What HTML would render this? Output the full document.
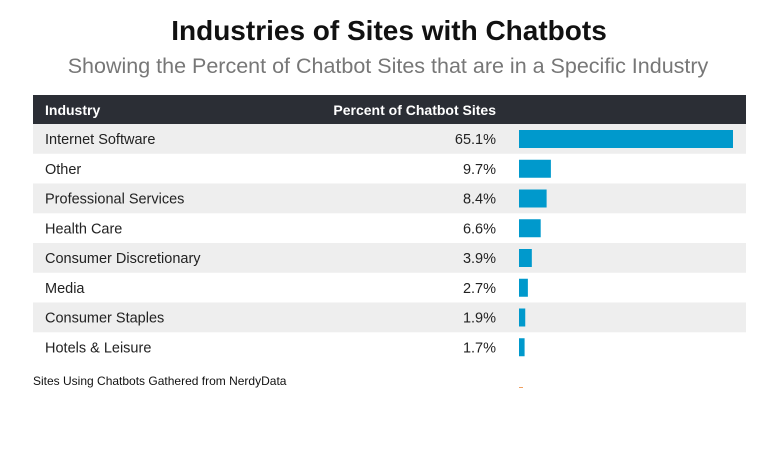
<!DOCTYPE html>
<html><head><meta charset="utf-8"><style>
body{margin:0;background:#fff;width:781px;height:470px;overflow:hidden;font-family:"Liberation Sans",sans-serif}
</style></head><body>
<svg width="781" height="470">
<text x="389" y="40" text-anchor="middle" font-size="28" font-weight="bold" fill="#111">Industries of Sites with Chatbots</text>
<text x="388" y="73" text-anchor="middle" font-size="21.5" fill="#777">Showing the Percent of Chatbot Sites that are in a Specific Industry</text>
<rect x="33" y="95" width="713" height="29" fill="#2b2e35"/>
<text x="45" y="115" font-size="14" font-weight="bold" fill="#fff">Industry</text>
<text x="496" y="115" text-anchor="end" font-size="14" font-weight="bold" fill="#fff">Percent of Chatbot Sites</text>
<g id="rows"></g>
<text x="33" y="385" font-size="12" fill="#111">Sites Using Chatbots Gathered from NerdyData</text>
<rect x="519" y="387" width="4" height="1" fill="#f0a060"/>
</svg>
<script>
const categories=["Internet Software","Other","Professional Services","Health Care","Consumer Discretionary","Media","Consumer Staples","Hotels & Leisure"];
const values=[65.1,9.7,8.4,6.6,3.9,2.7,1.9,1.7];
const labels=["65.1%","9.7%","8.4%","6.6%","3.9%","2.7%","1.9%","1.7%"];
const NS="http://www.w3.org/2000/svg";
const g=document.getElementById('rows');
const top0=124,rh=29.75,x0=519,maxW=214;
const maxV=Math.max(...values);
const xs=v=>v/maxV*maxW;
function mk(t,a){const e=document.createElementNS(NS,t);for(const k in a)e.setAttribute(k,a[k]);g.appendChild(e);return e;}
categories.forEach((c,i)=>{
  const y=top0+i*rh;
  if(i%2==0){const bg=mk('rect',{x:33,y:y,width:713,height:rh,fill:'#eeeeee'});
    
    }
  const t=mk('text',{x:45,y:y+20,'font-size':14.5,fill:'#222'});t.textContent=c;
  
  
  const p=mk('text',{x:496,y:y+20,'text-anchor':'end','font-size':14.5,fill:'#222'});p.textContent=labels[i];
  
  
  const b=mk('rect',{x:x0,y:y+6,width:xs(values[i]),height:18,fill:'#0099cc'});
  
  
});
</script>
</body></html>
